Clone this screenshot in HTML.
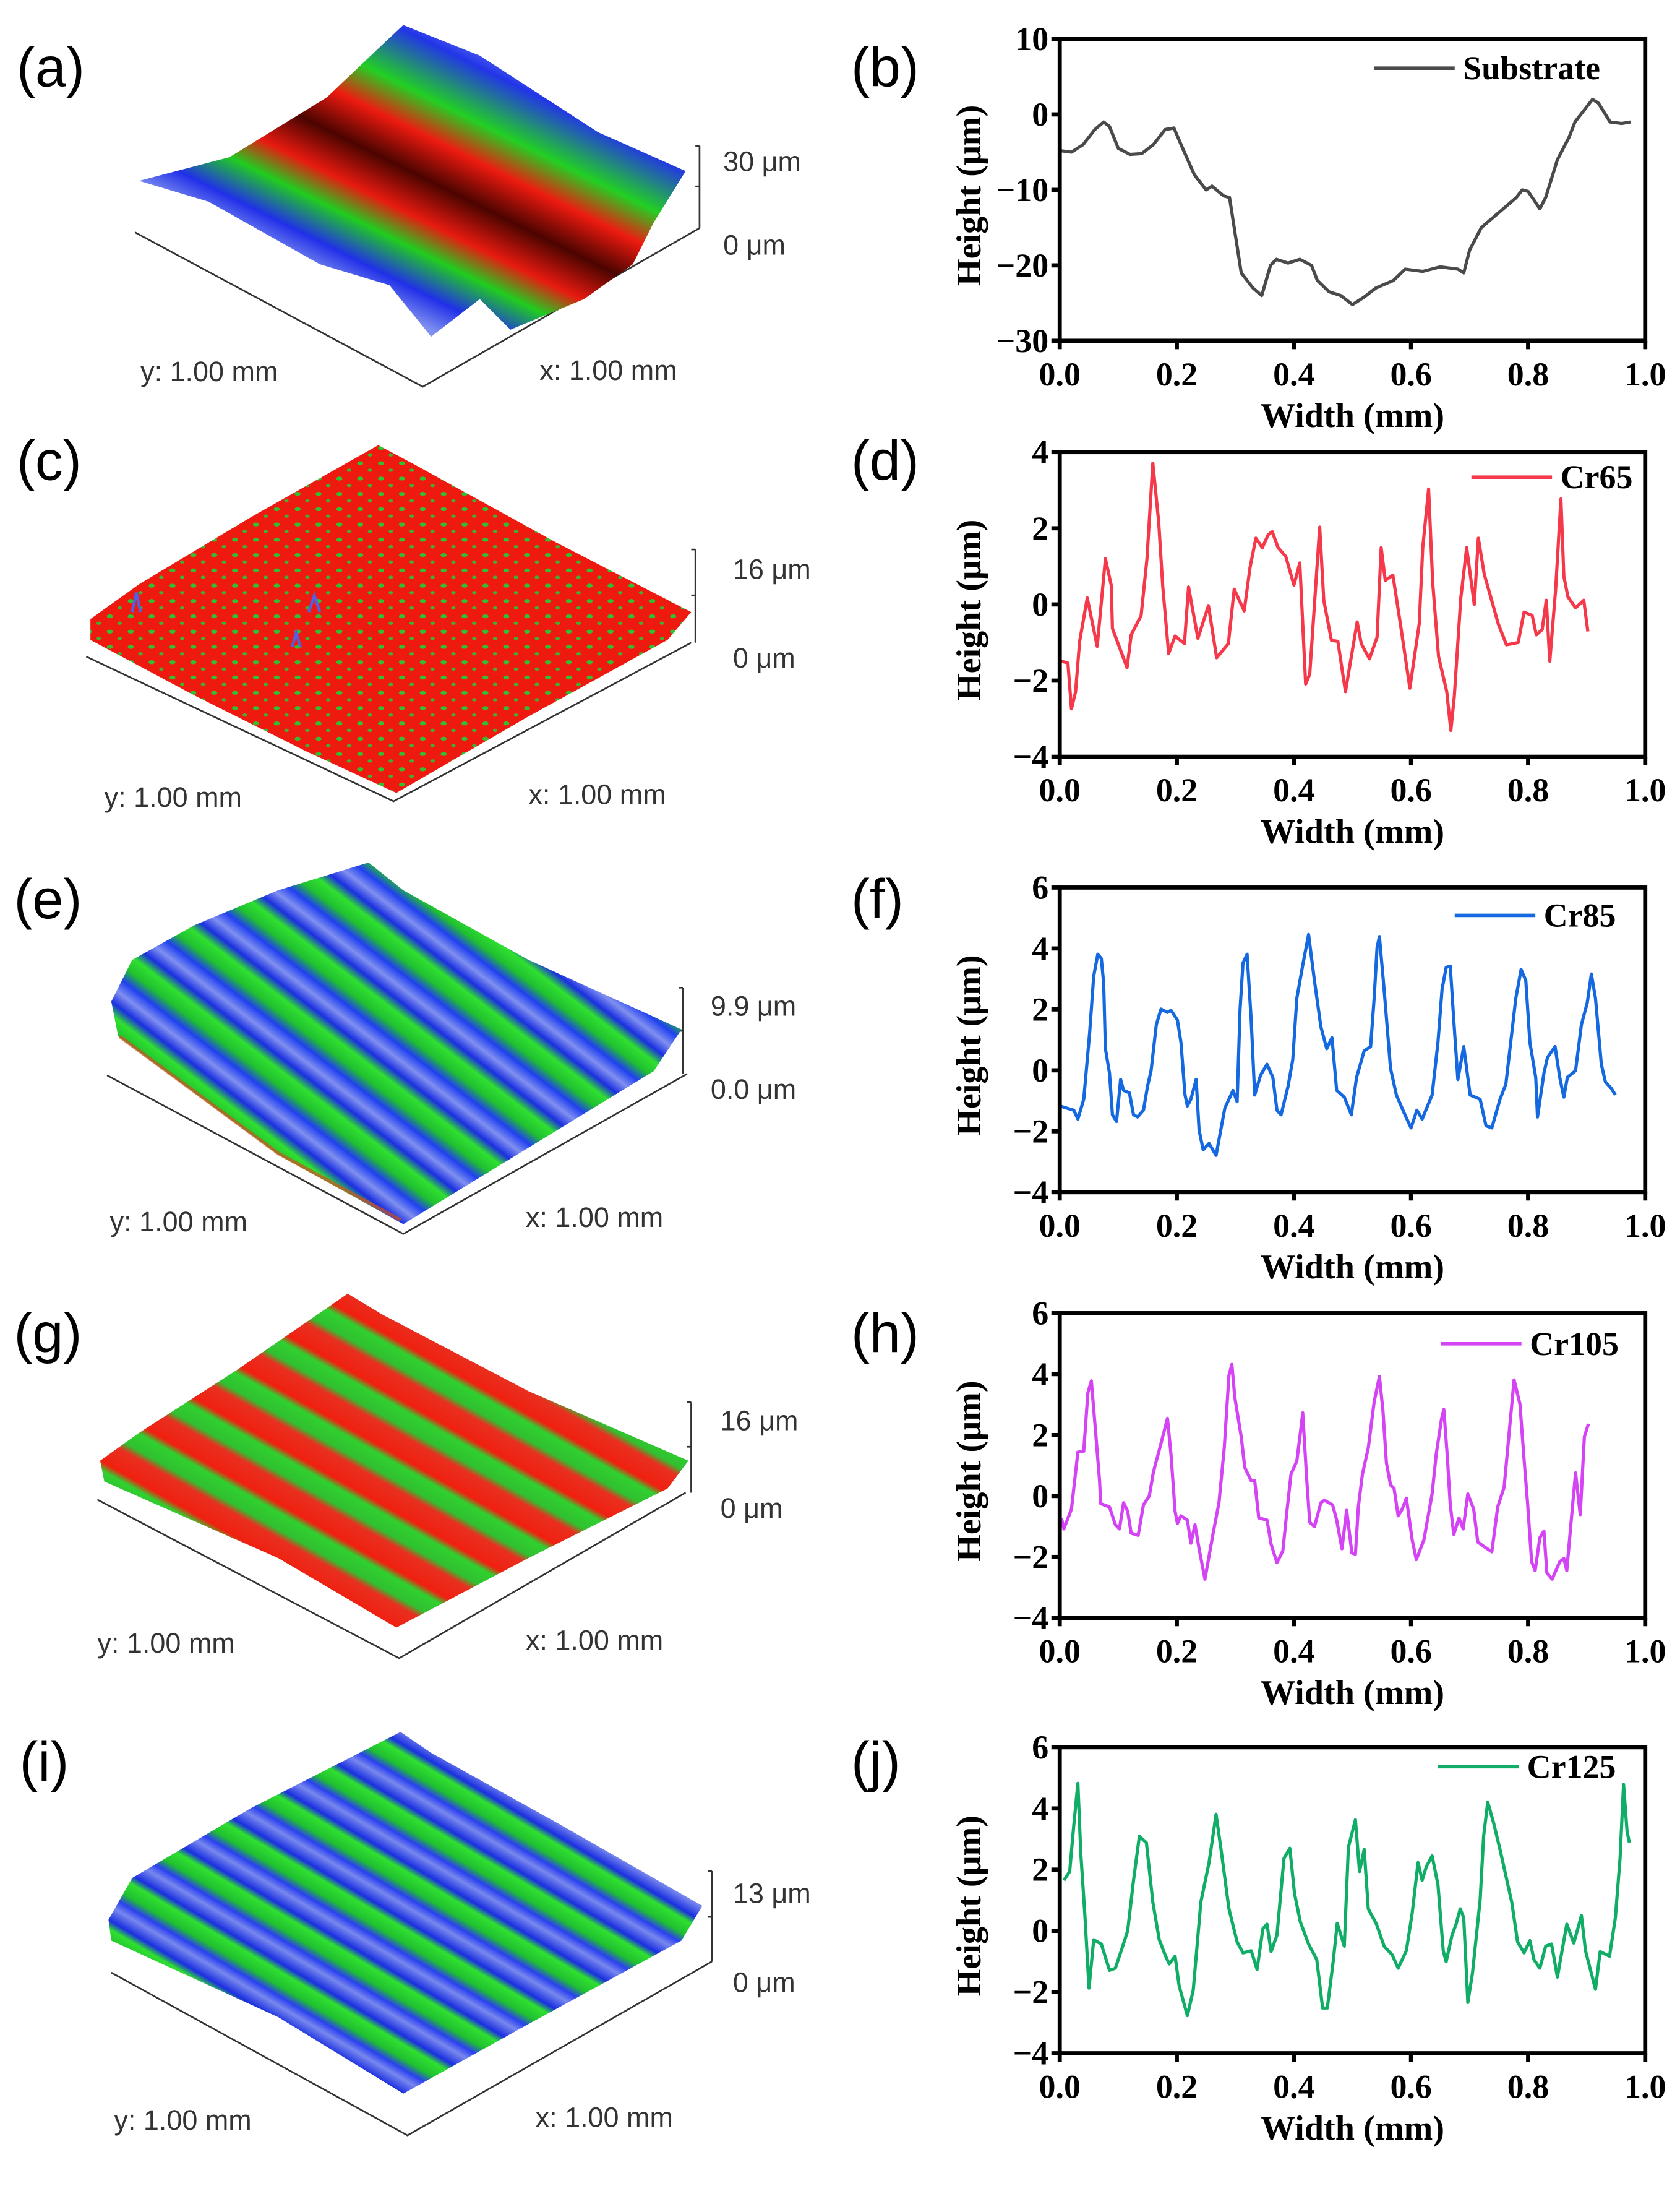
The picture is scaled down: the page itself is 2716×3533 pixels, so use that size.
<!DOCTYPE html>
<html><head><meta charset="utf-8">
<style>
html,body{margin:0;padding:0;background:#fff;}
svg{display:block;}
.pl{font-family:"Liberation Sans",sans-serif;font-size:40px;fill:#000;}
.sl{font-family:"Liberation Sans","DejaVu Sans",sans-serif;font-size:20px;fill:#333;}
.tk{font-family:"Liberation Serif",serif;font-weight:bold;font-size:24px;fill:#000;}
.ti{font-family:"Liberation Serif",serif;font-weight:bold;font-size:25px;fill:#000;}
</style></head>
<body>
<svg id="fig" xmlns="http://www.w3.org/2000/svg" width="2716" height="3533" viewBox="0 0 1208 1571.4">
<defs>
  <linearGradient id="gA" gradientUnits="userSpaceOnUse" x1="350" y1="20" x2="255" y2="210">
    <stop offset="0" stop-color="#8a96f2"/><stop offset="0.13" stop-color="#2235e8"/>
    <stop offset="0.3" stop-color="#22d022"/><stop offset="0.42" stop-color="#ee1a10"/>
    <stop offset="0.55" stop-color="#4a0400"/><stop offset="0.68" stop-color="#e81a10"/>
    <stop offset="0.78" stop-color="#20cc20"/><stop offset="0.9" stop-color="#2030e8"/>
    <stop offset="1" stop-color="#8090f0"/>
  </linearGradient>
  <pattern id="pC" patternUnits="userSpaceOnUse" width="15" height="11">
    <rect width="15" height="11" fill="#ee1a10"/>
    <ellipse cx="4" cy="3" rx="2.2" ry="1.4" fill="#30c030"/>
    <ellipse cx="11" cy="8" rx="1.6" ry="1.2" fill="#40b030"/>
  </pattern>
  <linearGradient id="gE" gradientUnits="userSpaceOnUse" spreadMethod="repeat" x1="80" y1="720" x2="105.5" y2="686.6">
    <stop offset="0" stop-color="#1a2fe0"/><stop offset="0.2" stop-color="#8090f0"/>
    <stop offset="0.4" stop-color="#2040f0"/><stop offset="0.6" stop-color="#20c030"/>
    <stop offset="0.82" stop-color="#30e030"/><stop offset="1" stop-color="#1a2fe0"/>
  </linearGradient>
  <linearGradient id="gG" gradientUnits="userSpaceOnUse" spreadMethod="repeat" x1="72" y1="1050" x2="89.7" y2="1018.6">
    <stop offset="0" stop-color="#f02010"/><stop offset="0.4" stop-color="#e83020"/>
    <stop offset="0.55" stop-color="#30c030"/><stop offset="0.85" stop-color="#30d030"/>
    <stop offset="1" stop-color="#f02010"/>
  </linearGradient>
  <linearGradient id="gI" gradientUnits="userSpaceOnUse" spreadMethod="repeat" x1="78" y1="1380" x2="96.3" y2="1349">
    <stop offset="0" stop-color="#1a2fe0"/><stop offset="0.25" stop-color="#7888ee"/>
    <stop offset="0.42" stop-color="#2a40f0"/><stop offset="0.6" stop-color="#20c030"/>
    <stop offset="0.85" stop-color="#30e030"/><stop offset="1" stop-color="#1a2fe0"/>
  </linearGradient>
</defs>

<!-- Panel labels -->
<text class="pl" x="12" y="62">(a)</text>
<text class="pl" x="612" y="62">(b)</text>
<text class="pl" x="12" y="345">(c)</text>
<text class="pl" x="612" y="345">(d)</text>
<text class="pl" x="10" y="660">(e)</text>
<text class="pl" x="612" y="660">(f)</text>
<text class="pl" x="10" y="972">(g)</text>
<text class="pl" x="612" y="972">(h)</text>
<text class="pl" x="14" y="1280">(i)</text>
<text class="pl" x="612" y="1280">(j)</text>

<!-- 3D surface a -->
<g>
  <polyline points="97,167 304,278 503,164" fill="none" stroke="#333" stroke-width="1.2"/>
  <path d="M503,105 V164 M500,105 H503 M500,134 H503" stroke="#333" stroke-width="1.2" fill="none"/>
  <polygon points="100,130 165,113 235,70 275,32 290,18 345,40 430,95 493,123 470,160 455,190 420,215 367,237 345,215 310,242 280,205 230,190 150,145" fill="url(#gA)"/>
  <text class="sl" x="520" y="123">30 μm</text>
  <text class="sl" x="520" y="183">0 μm</text>
  <text class="sl" x="101" y="274">y: 1.00 mm</text>
  <text class="sl" x="388" y="273">x: 1.00 mm</text>
</g>

<!-- 3D surface c -->
<g>
  <polyline points="62,472 283,576 497,462" fill="none" stroke="#333" stroke-width="1.2"/>
  <path d="M500,395 V462 M497,395 H500 M497,428 H500" stroke="#333" stroke-width="1.2" fill="none"/>
  <polygon points="65,445 100,420 180,372 272,320 300,335 400,390 497,440 480,460 380,515 285,570 220,540 140,500 65,460" fill="url(#pC)"/>
  <path d="M222,440 l4,-12 l4,12 M210,465 l3,-10 l3,10 M95,440 l3,-14 l3,14" stroke="#5060e0" stroke-width="2" fill="none"/>
  <text class="sl" x="527" y="416">16 μm</text>
  <text class="sl" x="527" y="480">0 μm</text>
  <text class="sl" x="75" y="580">y: 1.00 mm</text>
  <text class="sl" x="380" y="578">x: 1.00 mm</text>
</g>

<!-- 3D surface e -->
<g>
  <polyline points="77,773 290,887 494,772" fill="none" stroke="#333" stroke-width="1.2"/>
  <path d="M491,710 V772 M488,710 H491 M488,741 H491" stroke="#333" stroke-width="1.2" fill="none"/>
  <polygon points="80,720 95,690 140,665 200,640 265,620 290,640 380,690 490,740 470,770 380,825 290,880 200,830 85,745" fill="url(#gE)"/>
  <polyline points="86,745 200,829 288,877" fill="none" stroke="#d05020" stroke-width="2.5" opacity="0.7"/>
  <text class="sl" x="511" y="730">9.9 μm</text>
  <text class="sl" x="511" y="790">0.0 μm</text>
  <text class="sl" x="79" y="885">y: 1.00 mm</text>
  <text class="sl" x="378" y="882">x: 1.00 mm</text>
</g>

<!-- 3D surface g -->
<g>
  <polyline points="70,1078 287,1192 493,1073" fill="none" stroke="#333" stroke-width="1.2"/>
  <path d="M497,1008 V1073 M494,1008 H497 M494,1040 H497" stroke="#333" stroke-width="1.2" fill="none"/>
  <polygon points="72,1050 100,1030 170,985 250,930 275,945 380,1000 495,1050 480,1070 380,1120 285,1170 200,1120 75,1065" fill="url(#gG)"/>
  <text class="sl" x="518" y="1028">16 μm</text>
  <text class="sl" x="518" y="1091">0 μm</text>
  <text class="sl" x="70" y="1188">y: 1.00 mm</text>
  <text class="sl" x="378" y="1186">x: 1.00 mm</text>
</g>

<!-- 3D surface i -->
<g>
  <polyline points="80,1418 293,1535 512,1410" fill="none" stroke="#333" stroke-width="1.2"/>
  <path d="M512,1345 V1410 M509,1345 H512 M509,1378 H512" stroke="#333" stroke-width="1.2" fill="none"/>
  <polygon points="78,1380 95,1350 180,1300 288,1245 310,1260 400,1310 505,1370 490,1395 380,1455 290,1505 200,1450 80,1395" fill="url(#gI)"/>
  <text class="sl" x="527" y="1368">13 μm</text>
  <text class="sl" x="527" y="1432">0 μm</text>
  <text class="sl" x="82" y="1531">y: 1.00 mm</text>
  <text class="sl" x="385" y="1529">x: 1.00 mm</text>
</g>

<g id="charts"></g>
</svg>

<script>
// ---- data ----
const xTickValues = [0, 0.2, 0.4, 0.6, 0.8, 1.0];
const xTickLabels = ["0.0", "0.2", "0.4", "0.6", "0.8", "1.0"];
const substrateYTicks = [10, 0, -10, -20, -30];
const smallYTicks4 = [4, 2, 0, -2, -4];
const smallYTicks6 = [6, 4, 2, 0, -2, -4];

const substrateX = [0,.02,.04,.06,.075,.085,.1,.12,.14,.16,.18,.195,.21,.23,.25,.26,.28,.29,.3,.31,.33,.345,.36,.37,.39,.41,.43,.44,.46,.48,.5,.52,.54,.57,.59,.62,.65,.68,.69,.7,.72,.75,.78,.79,.8,.82,.83,.85,.87,.88,.9,.91,.92,.94,.96,.975];
const substrateY = [-4.8,-5,-4,-2,-1,-1.6,-4.5,-5.3,-5.2,-4,-2,-1.8,-4.5,-8,-10,-9.5,-10.8,-11,-16,-21,-23,-24,-20,-19.2,-19.7,-19.2,-20,-22,-23.5,-24,-25.2,-24.2,-23,-22,-20.5,-20.8,-20.2,-20.5,-21,-18,-15,-13,-11,-10,-10.2,-12.5,-11,-6,-3,-1,1,2,1.5,-1,-1.2,-1];

const cr65X = [.003,.014,.02,.027,.034,.047,.064,.078,.088,.09,.115,.122,.139,.149,.159,.169,.176,.186,.197,.213,.22,.236,.254,.268,.288,.298,.315,.325,.335,.346,.356,.363,.373,.386,.4,.41,.42,.427,.444,.451,.464,.475,.488,.508,.515,.529,.542,.549,.556,.569,.583,.598,.614,.62,.63,.637,.647,.661,.668,.674,.685,.695,.708,.715,.725,.736,.749,.763,.783,.793,.807,.814,.824,.831,.837,.847,.856,.861,.868,.881,.895,.902];
const cr65Y = [-1.49,-1.54,-2.74,-2.3,-.97,.17,-1.1,1.2,.5,-.63,-1.66,-.8,-.29,1.2,3.71,2.17,.46,-1.29,-.83,-1.03,.46,-.89,-.03,-1.4,-1.03,.4,-.17,.97,1.74,1.49,1.83,1.91,1.49,1.26,.51,1.09,-2.09,-1.83,2.03,.11,-.94,-.97,-2.29,-.46,-1.03,-1.43,-.86,1.49,.63,.77,-.63,-2.2,-.51,1.49,3.03,.57,-1.37,-2.29,-3.31,-2.4,.17,1.49,0,1.74,.8,.2,-.51,-1.06,-1,-.2,-.29,-.8,-.66,.11,-1.49,.4,2.77,.74,.2,-.09,.11,-.71];

const cr85X = [0,.024,.031,.041,.051,.058,.065,.071,.075,.078,.085,.09,.097,.104,.109,.119,.126,.133,.143,.15,.156,.165,.173,.184,.19,.201,.207,.214,.218,.224,.233,.238,.245,.255,.267,.282,.296,.303,.308,.313,.32,.327,.333,.343,.354,.364,.371,.378,.39,.398,.405,.415,.425,.435,.446,.456,.465,.473,.486,.498,.507,.52,.531,.537,.542,.546,.554,.565,.575,.588,.6,.61,.619,.636,.646,.653,.66,.667,.673,.68,.69,.701,.718,.728,.738,.752,.762,.772,.779,.788,.796,.803,.813,.816,.827,.833,.846,.854,.861,.867,.881,.891,.901,.908,.915,.925,.932,.942,.949];
const cr85Y = [-1.17,-1.31,-1.6,-.95,1.21,3.09,3.81,3.67,2.87,.71,-.09,-1.46,-1.68,-.3,-.66,-.74,-1.46,-1.53,-1.31,-.52,-.01,1.5,2.01,1.9,1.97,1.65,.92,-.81,-1.17,-.95,-.3,-1.96,-2.61,-2.4,-2.79,-1.24,-.66,-1.03,2.01,3.52,3.81,1.65,-.81,-.16,.2,-.23,-1.31,-1.46,-.52,.35,2.37,3.45,4.46,2.95,1.43,.71,1.07,-.66,-.88,-1.46,-.23,.64,.78,2.37,4.03,4.39,2.66,.06,-.81,-1.39,-1.89,-1.31,-1.6,-.81,.92,2.66,3.38,3.42,1.65,-.3,.78,-.81,-.95,-1.82,-1.89,-.95,-.45,1.21,2.37,3.31,2.95,.92,-.23,-1.53,-.09,.42,.78,-.23,-.88,-.23,-.01,1.5,2.22,3.16,2.37,.2,-.38,-.59,-.81];

const cr105X = [.003,.007,.02,.031,.041,.048,.054,.061,.068,.07,.085,.095,.102,.109,.116,.122,.134,.143,.153,.16,.17,.184,.19,.197,.201,.207,.218,.224,.231,.238,.248,.262,.272,.281,.289,.294,.299,.31,.316,.327,.333,.34,.354,.361,.371,.381,.388,.395,.405,.412,.415,.422,.427,.435,.446,.452,.466,.473,.482,.49,.499,.505,.51,.517,.527,.537,.546,.552,.558,.565,.571,.578,.585,.592,.602,.609,.622,.636,.643,.652,.656,.662,.667,.673,.682,.689,.697,.707,.714,.724,.738,.748,.759,.769,.776,.786,.793,.799,.806,.812,.82,.827,.832,.841,.854,.861,.866,.874,.881,.889,.896,.903];
const cr105Y = [-.72,-1.08,-.43,1.44,1.47,3.38,3.78,2.16,.5,-.25,-.36,-.94,-1.08,-.22,-.5,-1.22,-1.29,-.29,0,.79,1.51,2.55,1.37,-.5,-.9,-.65,-.79,-1.55,-.94,-1.73,-2.73,-1.22,-.22,1.58,3.96,4.32,3.24,1.94,.94,.5,.5,-.72,-.79,-1.58,-2.19,-1.8,-.5,.72,1.15,2.23,2.73,.5,-.86,-1.01,-.22,-.14,-.29,-.79,-1.73,-.47,-1.87,-1.91,-.36,.72,1.58,3.09,3.92,2.81,1.08,.36,.25,-.65,-.43,-.07,-1.44,-2.09,-1.44,.07,1.37,2.52,2.84,1.29,-.29,-1.26,-.72,-1.08,.07,-.43,-1.51,-1.65,-1.83,-.36,.29,2.37,3.81,3.02,1.22,-.22,-2.16,-2.45,-1.37,-1.15,-2.52,-2.73,-2.16,-2.05,-2.45,-.72,.76,-.61,1.94,2.37];

const cr125X = [.007,.017,.024,.031,.036,.043,.05,.058,.071,.085,.095,.105,.116,.126,.136,.148,.159,.17,.18,.187,.197,.204,.218,.228,.241,.255,.267,.276,.289,.303,.313,.327,.337,.347,.354,.361,.371,.383,.393,.401,.411,.425,.439,.449,.457,.467,.474,.486,.493,.505,.512,.52,.527,.541,.554,.568,.578,.592,.602,.612,.619,.626,.636,.646,.655,.66,.67,.677,.684,.69,.697,.705,.718,.724,.731,.741,.752,.762,.772,.782,.793,.803,.81,.82,.83,.84,.85,.866,.878,.891,.898,.915,.923,.939,.949,.957,.963,.969,.973];
const cr125Y = [1.65,1.94,3.45,4.82,2.52,.5,-1.87,-.29,-.43,-1.29,-1.22,-.65,0,1.65,3.09,2.88,.94,-.29,-.79,-1.08,-.83,-1.8,-2.77,-1.94,.94,2.23,3.81,2.59,.72,-.36,-.72,-.65,-1.26,.07,.22,-.68,-.14,2.37,2.7,1.22,.29,-.43,-.94,-2.52,-2.52,-1.01,.25,-.5,2.73,3.63,1.94,2.66,.72,.22,-.5,-.79,-1.22,-.65,.58,2.23,1.65,2.09,2.45,1.51,-.65,-1.01,-.14,.22,.72,.43,-2.34,-1.37,1.01,3.09,4.21,3.53,2.66,1.8,.94,-.36,-.72,-.32,-.94,-1.22,-.5,-.43,-1.51,.22,-.4,.5,-.65,-1.91,-.68,-.83,.43,2.37,4.78,3.24,2.88];

// ---- drawing ----
const NS = "http://www.w3.org/2000/svg";
const root = document.getElementById("charts");
function mk(tag, attrs, parent) {
  const e = document.createElementNS(NS, tag);
  for (const k in attrs) e.setAttribute(k, attrs[k]);
  (parent || root).appendChild(e);
  return e;
}
const X0 = 762, X1 = 1183;
function drawChart(key, top, bottom, yTicks, xs, ys, color, legendText, legX, legY) {
  const g = mk("g", {});
  
  
  const yMax = yTicks[0], yMin = yTicks[yTicks.length - 1];
  const sx = v => X0 + (v - 0) / (1 - 0) * (X1 - X0);
  const sy = v => bottom - (v - yMin) / (yMax - yMin) * (bottom - top);
  let d = "";
  for (let i = 0; i < xs.length; i++) d += (i ? "L" : "M") + sx(xs[i]).toFixed(2) + "," + sy(ys[i]).toFixed(2);
  const line = mk("path", {d: d, fill: "none", stroke: color, "stroke-width": 2.3, "stroke-linejoin": "round"}, g);
  
  
  const fr = mk("rect", {x: X0, y: top, width: X1 - X0, height: bottom - top, fill: "none", stroke: "#000", "stroke-width": 3}, g);
  
  
  for (let i = 0; i < yTicks.length; i++) {
    const y = sy(yTicks[i]);
    const t = mk("line", {x1: X0 - 6, x2: X0, y1: y, y2: y, stroke: "#000", "stroke-width": 3}, g);
    
    
    const lb = mk("text", {x: X0 - 8, y: y + 8, "text-anchor": "end", class: "tk"}, g);
    
    
    lb.textContent = String(yTicks[i]).replace("-", "\u2212");
  }
  for (let i = 0; i < xTickValues.length; i++) {
    const x = sx(xTickValues[i]);
    const t = mk("line", {x1: x, x2: x, y1: bottom, y2: bottom + 6, stroke: "#000", "stroke-width": 3}, g);
    
    
    const lb = mk("text", {x: x, y: bottom + 32, "text-anchor": "middle", class: "tk"}, g);
    
    
    lb.textContent = xTickLabels[i];
  }
  const xt = mk("text", {x: (X0 + X1) / 2, y: bottom + 62, "text-anchor": "middle", class: "ti"}, g);
  
  
  xt.textContent = "Width (mm)";
  const cy = (top + bottom) / 2 + 4;
  const yt = mk("text", {x: 705, y: cy, "text-anchor": "middle", class: "ti", transform: "rotate(-90 705 " + cy + ")"}, g);
  
  
  yt.textContent = "Height (\u03bcm)";
  const ll = mk("line", {x1: legX, x2: legX + 58, y1: legY, y2: legY, stroke: color, "stroke-width": 2.5}, g);
  
  
  const lt = mk("text", {x: legX + 64, y: legY + 8, class: "tk"}, g);
  
  
  lt.textContent = legendText;
}
drawChart("substrate", 28, 245, substrateYTicks, substrateX, substrateY, "#4a4a4a", "Substrate", 988, 49);
drawChart("cr65", 325, 544, smallYTicks4, cr65X, cr65Y, "#f5394a", "Cr65", 1058, 343);
drawChart("cr85", 638, 857, smallYTicks6, cr85X, cr85Y, "#1469e0", "Cr85", 1046, 658);
drawChart("cr105", 944, 1163, smallYTicks6, cr105X, cr105Y, "#d444f5", "Cr105", 1036, 966);
drawChart("cr125", 1256, 1476, smallYTicks6, cr125X, cr125Y, "#10ad66", "Cr125", 1034, 1270);
</script>
</body></html>
